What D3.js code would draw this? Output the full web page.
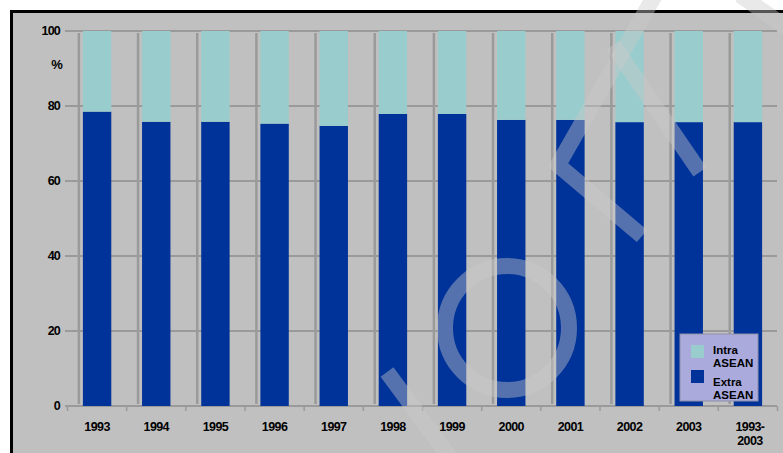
<!DOCTYPE html>
<html>
<head>
<meta charset="utf-8">
<script src="https://cdn.jsdelivr.net/npm/d3@7"></script>
<style>
  body { margin: 0; background: #ffffff; }
  svg { display: block; }
  text { font-family: "Liberation Sans", Arial, sans-serif; font-weight: bold; fill: #000; }
</style>
</head>
<body>
<div class="container"></div>
<script>
// DATA
const years = ["1993", "1994", "1995", "1996", "1997", "1998", "1999", "2000", "2001", "2002", "2003", "1993-2003"];
const extraAsean = [78.5, 75.8, 75.8, 75.3, 74.7, 77.9, 77.9, 76.3, 76.3, 75.7, 75.7, 75.7];
const intraAsean = [21.5, 24.2, 24.2, 24.7, 25.3, 22.1, 22.1, 23.7, 23.7, 24.3, 24.3, 24.3];
const yTicks = [0, 20, 40, 60, 80, 100];
const seriesNames = ["Extra ASEAN", "Intra ASEAN"];
const seriesColors = ["#003399", "#99cccc"];

// FRAME
const W = 783, H = 453;
const svg = d3.select(".container").append("svg")
  .attr("width", W).attr("height", H);

// white page, black frame, gray panel
svg.append("rect").attr("x", 0).attr("y", 0).attr("width", W).attr("height", H).attr("fill", "#fff");
svg.append("rect").attr("x", 11.5).attr("y", 11.5).attr("width", W).attr("height", H)
  .attr("fill", "#c0c0c0").attr("stroke", "#000").attr("stroke-width", 3);

// SCALES
const x = d3.scaleBand().domain(years).range([67.5, 777.5]).paddingInner(0.52).paddingOuter(0.26);
const y = d3.scaleLinear().domain([0, 100]).range([406, 31]);
const gap = (x.step() - x.bandwidth()) / 2;

// horizontal gridlines
svg.append("g").selectAll("line").data(yTicks.filter(d => d > 0)).join("line")
  .attr("x1", 65).attr("x2", 777)
  .attr("y1", d => y(d)).attr("y2", d => y(d))
  .attr("stroke", "#9a9a9a").attr("stroke-width", 2);

// vertical separators just left of each bar
svg.append("g").selectAll("line").data(years).join("line")
  .attr("x1", d => x(d) - 4).attr("x2", d => x(d) - 4)
  .attr("y1", y(100) + 2).attr("y2", y(0) - 2)
  .attr("stroke", "#9a9a9a").attr("stroke-width", 2.5);

// x axis baseline and ticks
svg.append("line").attr("x1", 65).attr("x2", 777).attr("y1", y(0)).attr("y2", y(0))
  .attr("stroke", "#9a9a9a").attr("stroke-width", 2);
svg.append("g").selectAll("line").data(years.concat(["end"])).join("line")
  .attr("x1", (d, i) => (i < years.length ? x(d) : x(years[years.length - 1]) + x.step()) - gap)
  .attr("x2", (d, i) => (i < years.length ? x(d) : x(years[years.length - 1]) + x.step()) - gap)
  .attr("y1", y(0)).attr("y2", y(0) + 5)
  .attr("stroke", "#9a9a9a").attr("stroke-width", 1.5);

// STACKED BARS
const table = years.map((yr, i) => ({ year: yr, "Extra ASEAN": extraAsean[i], "Intra ASEAN": intraAsean[i] }));
const stacked = d3.stack().keys(seriesNames)(table);
svg.append("g").selectAll("g").data(stacked).join("g")
  .attr("fill", (d, i) => seriesColors[i])
  .selectAll("rect").data(d => d).join("rect")
  .attr("x", d => x(d.data.year))
  .attr("width", x.bandwidth())
  .attr("y", d => y(d[1]))
  .attr("height", d => y(d[0]) - y(d[1]));

// Y LABELS
svg.append("g").selectAll("text").data(yTicks).join("text")
  .attr("x", 60).attr("y", d => y(d)).attr("dy", "0.35em")
  .attr("text-anchor", "end").attr("font-size", 12.5).attr("letter-spacing", -0.8)
  .text(d => d);
svg.append("text").attr("x", 57).attr("y", 69).attr("text-anchor", "middle")
  .attr("font-size", 13).attr("font-weight", "normal").text("%");

// X LABELS
svg.append("g").selectAll("text").data(years).join("text")
  .attr("x", d => x(d) + x.bandwidth() / 2)
  .attr("y", 431)
  .attr("text-anchor", "middle").attr("font-size", 12.5).attr("letter-spacing", -0.6)
  .each(function (d) {
    const parts = d.includes("-") ? [d.split("-")[0] + "-", d.split("-")[1]] : [d];
    d3.select(this).selectAll("tspan").data(parts).join("tspan")
      .attr("x", x(d) + x.bandwidth() / 2 + (parts.length > 1 ? 2 : 0))
      .attr("dy", (p, i) => i === 0 ? 0 : 14)
      .text(p => p);
  });

// LEGEND
const legend = svg.append("g").attr("transform", "translate(680, 334)");
legend.append("rect").attr("width", 78).attr("height", 67)
  .attr("fill", "#aaaadd").attr("stroke", "#8f8fa8").attr("stroke-width", 1);
const legendItems = [
  { color: seriesColors[1], lines: ["Intra", "ASEAN"], sy: 11, ty: 20 },
  { color: seriesColors[0], lines: ["Extra", "ASEAN"], sy: 36, ty: 52 }
];
legendItems.forEach(item => {
  legend.append("rect").attr("x", 11).attr("y", item.sy).attr("width", 13).attr("height", 13)
    .attr("fill", item.color);
  const t = legend.append("text").attr("x", 33).attr("y", item.ty).attr("font-size", 11.5);
  t.selectAll("tspan").data(item.lines).join("tspan")
    .attr("x", 33).attr("dy", (p, i) => i === 0 ? 0 : 13).text(p => p);
});

// WATERMARK (translucent decoration over the chart)
const wm = svg.append("g").attr("fill", "none").attr("stroke", "#cacaca")
  .attr("stroke-opacity", 0.42).attr("stroke-width", 16).attr("stroke-linecap", "butt");
wm.append("circle").attr("cx", 507).attr("cy", 328).attr("r", 62);
wm.append("path").attr("d", "M 387 372 L 452 460");
wm.append("path").attr("d", "M 655 -5 L 558 165 L 642 236");
wm.append("path").attr("d", "M 613 45 L 700 172");
wm.append("path").attr("d", "M 740 -5 L 790 30");
</script>
</body>
</html>
